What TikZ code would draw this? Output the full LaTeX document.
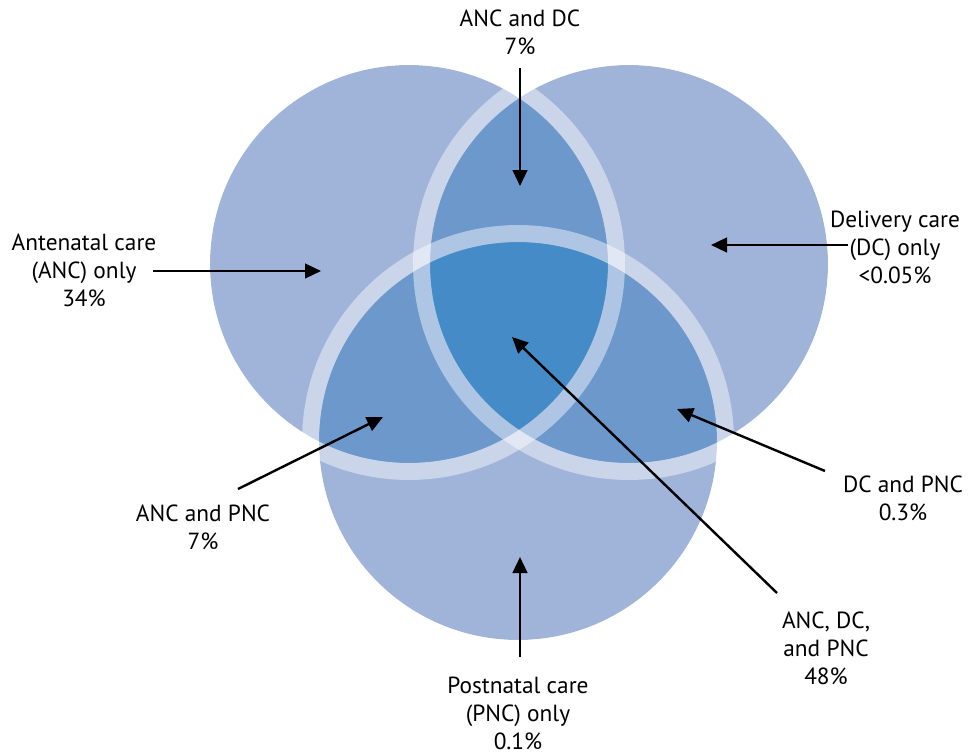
\documentclass[tikz,border=0pt]{standalone}
\usepackage{fontspec}
\setmainfont{PT Sans}
\usetikzlibrary{arrows.meta}
\definecolor{one}{HTML}{A0B3D9}
\definecolor{two}{HTML}{6C98CC}
\definecolor{three}{HTML}{448BC7}
\newcommand\Rad{149.25pt}
\newcommand\RingRad{155.6pt}
\tikzset{
  ring/.style={
    draw = white,
    draw opacity = 0.45,
    line width = 12.75pt
  },
  pointer/.style={
    line width = 1.8pt,
    -{Triangle[length=12pt,width=11pt]}
  },
  share/.style={
    align = center,
    font = \fontsize{17.5}{21}\selectfont,
    inner sep = 0pt
  },
}

\begin{document}
\begin{tikzpicture}[x=0.75pt,y=-0.75pt]
        \useasboundingbox (0,0) rectangle (979,754);

        \coordinate (cL) at (409,264);
        \coordinate (cR) at (629,264);
        \coordinate (cB) at (518,441);

        \fill[one] (cL) circle (\Rad);
        \fill[one] (cR) circle (\Rad);
        \fill[one] (cB) circle (\Rad);
        \begin{scope}
          \clip (cL) circle (\Rad);
          \fill[two] (cR) circle (\Rad);
          \fill[two] (cB) circle (\Rad);
        \end{scope}
        \begin{scope}
          \clip (cR) circle (\Rad);
          \fill[two] (cB) circle (\Rad);
        \end{scope}
        \begin{scope}
          \clip (cL) circle (\Rad);
          \clip (cR) circle (\Rad);
          \fill[three] (cB) circle (\Rad);
        \end{scope}

        \draw[ring] (cL) circle (\RingRad);
        \draw[ring] (cR) circle (\RingRad);
        \draw[ring] (cB) circle (\RingRad);

        \node[share] (ancdc) at (520,32) {ANC and DC\\7\%};
        \node[share] (anc) at (84,270) {Antenatal care\\(ANC) only\\34\%};
        \node[share] (dc) at (895,247) {Delivery care\\(DC) only\\<0.05\%};
        \node[share] (ancpnc) at (203,527) {ANC and PNC\\7\%};
        \node[share] (dcpnc) at (903,498) {DC and PNC\\0.3\%};
        \node[share] (all) at (826,648) {ANC, DC,\\and PNC\\48\%};
        \node[share] (pnc) at (518,713) {Postnatal care\\(PNC) only\\0.1\%};

        \coordinate (ancdcFrom) at (520,68);
        \coordinate (ancdcTo) at (520,186);
        \coordinate (ancFrom) at (153,271);
        \coordinate (ancTo) at (321,271);
        \coordinate (dcFrom) at (848,245);
        \coordinate (dcTo) at (711,245);
        \coordinate (ancpncFrom) at (238,489);
        \coordinate (ancpncTo) at (383,417);
        \coordinate (dcpncFrom) at (825,471);
        \coordinate (dcpncTo) at (677,409);
        \coordinate (allFrom) at (777,593);
        \coordinate (allTo) at (512,337);
        \coordinate (pncFrom) at (520,657);
        \coordinate (pncTo) at (520,557);

        \draw[pointer] (ancdcFrom) -- (ancdcTo);
        \draw[pointer] (ancFrom) -- (ancTo);
        \draw[pointer] (dcFrom) -- (dcTo);
        \draw[pointer] (ancpncFrom) -- (ancpncTo);
        \draw[pointer] (dcpncFrom) -- (dcpncTo);
        \draw[pointer] (allFrom) -- (allTo);
        \draw[pointer] (pncFrom) -- (pncTo);
\end{tikzpicture}
\end{document}
